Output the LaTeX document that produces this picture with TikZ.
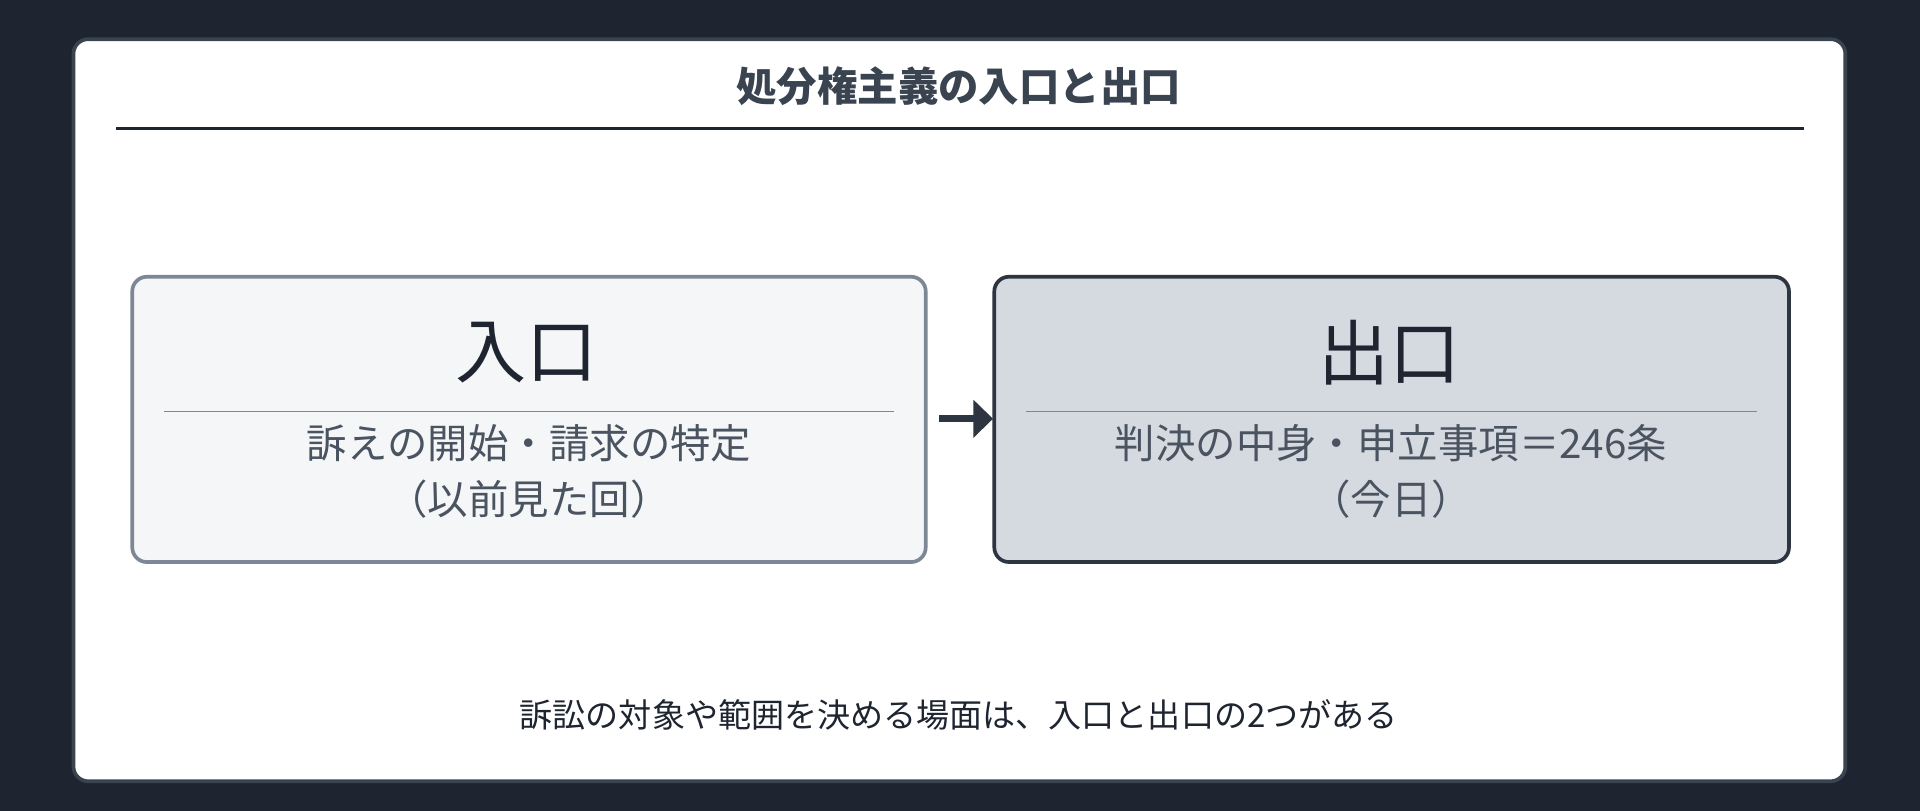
\documentclass[tikz,border=0pt]{standalone}
\usepackage{fontspec}
\setmainfont{Noto Sans CJK JP}
\usetikzlibrary{arrows.meta}
\definecolor{bgdark}{HTML}{1E2530}
\definecolor{cardborder}{HTML}{3A4350}
\definecolor{leftfill}{HTML}{F4F6F8}
\definecolor{leftborder}{HTML}{7D8796}
\definecolor{rightfill}{HTML}{D5DAE1}
\definecolor{rightborder}{HTML}{2D3541}
\definecolor{subtext}{HTML}{4A5360}
\begin{document}
\begin{tikzpicture}[x=1pt,y=-1pt,
  box/.style={rounded corners=12pt,line width=3pt},
  big/.style={font=\fontsize{58}{64}\selectfont,text=bgdark},
  sub/.style={font=\fontsize{33}{40}\selectfont,text=subtext,align=center},
  sep/.style={line width=1.5pt}]
\fill[bgdark] (0,0) rectangle (1568,662);
\useasboundingbox (0,0) rectangle (1568,662);
\draw[fill=white,draw=cardborder,line width=3pt,rounded corners=12pt] (60,32) rectangle (1507,638);
\node[font=\bfseries\fontsize{33}{40}\selectfont,text=cardborder] (title) at (783,70) {処分権主義の入口と出口};
\draw[bgdark,line width=2pt] (95,105) -- (1473,105);
\draw[box,fill=leftfill,draw=leftborder] (108,226) rectangle (756,459);
\node (lb) at (432,342) {};
\node[big] (lt) at (430,288) {入口};
\draw[sep,leftborder] (134,336) -- (730,336);
\node[sub] (ls1) at (432,362) {訴えの開始・請求の特定};
\node[sub] (ls2) at (432,408) {（以前見た回）};
\draw[box,fill=rightfill,draw=rightborder] (812,226) rectangle (1461,459);
\node (rb) at (1136,342) {};
\node[big] (rt) at (1135,288) {出口};
\draw[sep,leftborder] (838,336) -- (1435,336);
\node[sub] (rs1) at (1136,362) {判決の中身・申立事項＝246条};
\node[sub] (rs2) at (1136,408) {（今日）};
\coordinate (a1) at (767,342);
\coordinate (a2) at (811,342);
\draw[rightborder,line width=6pt,-{Triangle[length=16pt,width=30pt]}] (a1) -- (a2);
\node[font=\fontsize{27}{32}\selectfont,text=bgdark] (foot) at (783,584) {訴訟の対象や範囲を決める場面は、入口と出口の2つがある};
\end{tikzpicture}
\end{document}
